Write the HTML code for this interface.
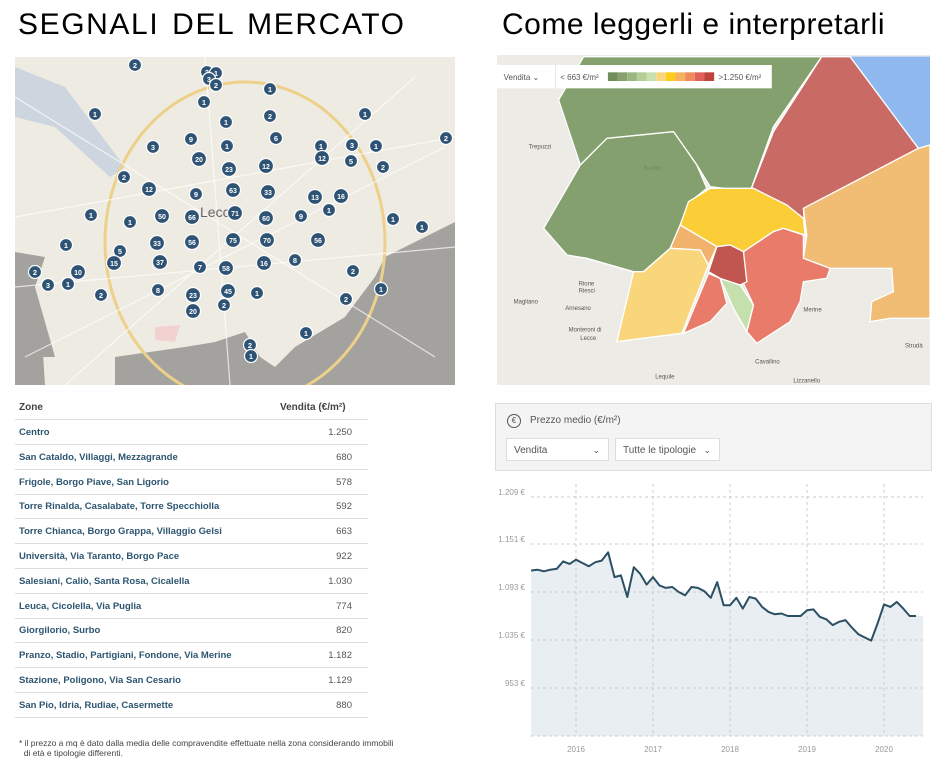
<!DOCTYPE html>
<html><head><meta charset="utf-8">
<style>
body{margin:0;width:948px;height:767px;background:#fff;position:relative;overflow:hidden;font-family:"Liberation Sans",sans-serif}
.abs{position:absolute}
.title{font-size:30px;color:#000;top:8px}
.row{position:absolute;left:15px;width:353px;height:24px;border-bottom:1px solid #ddd;font-size:9.5px}
.row .z{position:absolute;left:4px;top:7px;font-weight:bold;color:#2d5570}
.row .v{position:absolute;right:16px;top:7px;color:#555}
.dd{position:absolute;top:438px;height:23px;background:#fff;border:1px solid #ddd;font-size:10px;color:#555;line-height:23px;padding-left:7px;box-sizing:border-box}
.dd span{position:absolute;right:8px;top:0;font-size:9px}
</style></head><body>
<div class="abs title" style="left:18px;letter-spacing:1.6px;word-spacing:3px">SEGNALI DEL MERCATO</div>
<div class="abs title" style="left:502px;letter-spacing:0.5px">Come leggerli e interpretarli</div>

<svg class="abs" style="left:15px;top:57px" width="440" height="328" viewBox="0 0 440 328">
<rect width="440" height="328" fill="#eeebe2"/>
<polygon points="0,10 50,30 110,110 95,120 40,70 0,60" fill="#cdd5df"/>
<polygon points="0,195 30,200 20,230 40,300 0,300" fill="#a3a29f"/>
<polygon points="0,245 25,250 30,328 0,328" fill="#a3a29f"/>
<polygon points="100,300 170,290 200,285 230,275 245,300 260,310 280,290 330,260 360,220 370,200 440,165 440,328 100,328" fill="#a3a29f"/>
<polygon points="330,260 360,220 380,205 410,195 440,170 440,290 360,285" fill="#a3a29f"/>
<polygon points="140,270 165,268 160,285 140,283" fill="#f2d1d1"/>
<ellipse cx="230" cy="185" rx="140" ry="160" fill="none" stroke="#edd08a" stroke-width="3"/>
<g stroke="#fff" stroke-width="1.2" fill="none" opacity="0.7">
<line x1="0" y1="160" x2="440" y2="80"/><line x1="0" y1="230" x2="440" y2="190"/>
<line x1="190" y1="0" x2="215" y2="328"/><line x1="50" y1="328" x2="400" y2="20"/>
<line x1="0" y1="40" x2="420" y2="300"/><line x1="10" y1="300" x2="430" y2="90"/>
</g>
<text x="185" y="160" font-size="14" fill="#666" font-family="Liberation Sans">Lecce</text>
<g id="markers"></g>
</svg>

<svg class="abs" style="left:497px;top:55px" width="433" height="330" viewBox="0 0 1300 990" preserveAspectRatio="none">
<rect width="1300" height="990" fill="#ecebe6"/>
<polygon points="1050,5 1300,5 1300,270 1265,280 1150,150" fill="#8fb9ee"/>
<g stroke="#fff" stroke-width="4">
<polygon points="185,135 260,5 975,5 830,215 760,410 640,395 600,330 530,230 330,250 250,330" fill="#84a06e"/>
<polygon points="140,520 250,330 330,250 530,230 600,330 630,400 580,440 550,510 520,580 440,650 410,650 270,610 210,600" fill="#84a06e"/>
<polygon points="760,410 830,230 975,5 1060,5 1265,280 920,460 925,540" fill="#c96a64"/>
<polygon points="920,460 1265,280 1300,270 1300,790 1180,790 1120,800 1125,740 1190,710 1185,640 1000,640 920,610 930,540" fill="#f1bc73"/>
<polygon points="550,510 575,440 640,400 770,400 870,450 920,490 925,540 860,520 830,530 740,590 700,570 660,575" fill="#fbcd37"/>
<polygon points="520,580 550,510 660,575 635,630 610,585" fill="#f1b26c"/>
<polygon points="360,860 410,650 440,650 520,580 610,585 635,630 555,835" fill="#f9d67c"/>
<polygon points="740,590 830,530 860,520 920,540 920,610 1000,640 990,670 920,680 910,740 880,800 780,865 750,830 770,750 740,685" fill="#e87b6a"/>
<polygon points="635,655 670,670 690,745 640,800 560,835" fill="#e87b6a"/>
<polygon points="670,670 730,690 770,750 750,830 710,760" fill="#c6e0ad"/>
<polygon points="660,575 700,570 740,590 750,680 730,690 670,670 635,650" fill="#c0564f"/>
</g>
<g font-family="Liberation Sans" font-size="18" fill="#555">
<text x="95" y="280">Trepuzzi</text><text x="50" y="745">Magliano</text><text x="215" y="830">Monteroni di</text><text x="250" y="855">Lecce</text>
<text x="920" y="770">Merine</text><text x="775" y="925">Cavallino</text><text x="890" y="983">Lizzanello</text><text x="1225" y="878">Strudà</text>
<text x="205" y="765">Arnesano</text><text x="245" y="692">Rione</text><text x="245" y="712">Riesci</text><text x="475" y="970">Lequile</text>
<text x="440" y="345" fill="#6c8a5e" font-size="20">Surbo</text>
</g>
<rect x="0" y="30" width="825" height="70" fill="#fff"/>
<text x="20" y="75" font-size="24" fill="#555" font-family="Liberation Sans">Vendita ⌄</text>
<line x1="175" y1="30" x2="175" y2="100" stroke="#ddd" stroke-width="2"/>
<text x="190" y="75" font-size="24" fill="#555" font-family="Liberation Sans">&lt; 663 €/m²</text>
<g id="scale"></g>
<text x="665" y="75" font-size="24" fill="#555" font-family="Liberation Sans">&gt;1.250 €/m²</text>
</svg>

<div class="abs" style="left:19px;top:402px;font-size:10px;font-weight:bold;color:#444">Zone</div>
<div class="abs" style="left:280px;top:402px;font-size:10px;font-weight:bold;color:#444">Vendita (€/m²)</div>
<div class="abs" style="left:15px;top:419px;width:353px;border-top:1px solid #ddd"></div>
<div id="rows"></div>
<div class="abs" style="left:19px;top:738px;font-size:8.5px;color:#444;line-height:10px;white-space:nowrap">* il prezzo a mq è dato dalla media delle compravendite effettuate nella zona considerando immobili<br>&nbsp; di età e tipologie differenti.</div>

<div class="abs" style="left:495px;top:403px;width:437px;height:68px;background:#f4f4f4;border:1px solid #ddd;box-sizing:border-box"></div>
<div class="abs" style="left:507px;top:414px;width:12px;height:12px;border:1px solid #555;border-radius:50%;font-size:8px;text-align:center;line-height:12px;color:#555">€</div>
<div class="abs" style="left:530px;top:415px;font-size:10px;color:#555">Prezzo medio (€/m²)</div>
<div class="dd" style="left:506px;width:103px">Vendita<span>⌄</span></div>
<div class="dd" style="left:615px;width:105px">Tutte le tipologie<span>⌄</span></div>

<svg class="abs" style="left:495px;top:480px" width="440" height="287">
<g id="chart"></g>
</svg>

<script>
const NS="http://www.w3.org/2000/svg";
function mk(tag,attrs,parent){const e=document.createElementNS(NS,tag);for(const k in attrs)e.setAttribute(k,attrs[k]);parent.appendChild(e);return e;}

const markerLabels=["2","3","1","3","2","1","1","1","1","2","1","3","9","6","1","20","1","3","1","12","5","2","23","12","2","12","9","63","33","13","16","1","1","1","50","66","71","60","9","1","1","1","33","56","75","70","56","5","15","37","7","58","16","8","2","10","3","1","2","1","8","2","23","45","1","20","2","2","1","2","1","2"];
const markerPos=[[135,65],[207,72],[216,73],[209,79],[216,85],[95,114],[204,102],[270,89],[365,114],[270,116],[226,122],[153,147],[191,139],[276,138],[227,146],[199,159],[321,146],[352,145],[376,146],[322,158],[351,161],[383,167],[229,169],[266,166],[124,177],[149,189],[196,194],[233,190],[268,192],[315,197],[341,196],[329,210],[91,215],[130,222],[162,216],[192,217],[235,213],[266,218],[301,216],[393,219],[422,227],[66,245],[157,243],[192,242],[233,240],[267,240],[318,240],[120,251],[114,263],[160,262],[200,267],[226,268],[264,263],[295,260],[35,272],[78,272],[48,285],[68,284],[353,271],[381,289],[158,290],[101,295],[193,295],[228,291],[257,293],[193,311],[224,305],[346,299],[306,333],[250,345],[251,356],[446,138]];
const mg=document.getElementById('markers');
markerPos.forEach((p,i)=>{
 const x=p[0]-15,y=p[1]-57;const big=markerLabels[i].length>1;
 const g=mk('g',{},mg);
 
 
 mk('circle',{cx:x,cy:y,r:big?7.5:6.5,fill:'#2f5375',stroke:'#fff','stroke-width':1.2},g);
 const t=mk('text',{x:x,y:y+2.8,'text-anchor':'middle','font-size':big?7:7.5,'font-weight':'bold',fill:'#fff','font-family':'Liberation Sans'},g);
 t.textContent=markerLabels[i];
});
const scaleColors=["#6f8d5d","#86a06e","#9ab682","#b3cf95","#c8dfae","#f9d67c","#fbcd1a","#f5b060","#ef8a5c","#e0605a","#c0443e"];
const sg=document.getElementById('scale');
scaleColors.forEach((c,i)=>{const r=mk('rect',{x:333+i*29,y:52,width:29,height:26,fill:c},sg);
 
 });

const zones=["Centro","San Cataldo, Villaggi, Mezzagrande","Frigole, Borgo Piave, San Ligorio","Torre Rinalda, Casalabate, Torre Specchiolla","Torre Chianca, Borgo Grappa, Villaggio Gelsi","Università, Via Taranto, Borgo Pace","Salesiani, Caliò, Santa Rosa, Cicalella","Leuca, Cicolella, Via Puglia","Giorgilorio, Surbo","Pranzo, Stadio, Partigiani, Fondone, Via Merine","Stazione, Poligono, Via San Cesario","San Pio, Idria, Rudiae, Casermette"];
const prices=["1.250","680","578","592","663","922","1.030","774","820","1.182","1.129","880"];
const rows=document.getElementById('rows');
zones.forEach((z,i)=>{const d=document.createElement('div');d.className='row';d.style.top=(420+i*24.8)+'px';
 
 
 d.innerHTML='<span class="z">'+z+'</span><span class="v">'+prices[i]+'</span>';rows.appendChild(d);});

const startYear=2015+5/12;
const values=[1119,1120,1118,1120,1121,1130,1127,1132,1128,1124,1129,1131,1141,1111,1113,1087,1123,1115,1102,1111,1101,1098,1099,1093,1089,1099,1098,1094,1086,1105,1077,1077,1086,1073,1087,1085,1075,1069,1066,1067,1064,1064,1064,1071,1072,1063,1060,1053,1057,1059,1050,1042,1038,1034,1055,1078,1075,1081,1073,1064,1064];
const yTicks=[953,1035,1093,1151,1209];
const yTickLabels=["953 €","1.035 €","1.093 €","1.151 €","1.209 €"];
const xYears=[2016,2017,2018,2019,2020];
const xLabels=["2016","2017","2018","2019","2020"];
const x0=36,x1=428,yBottom=256;
const yTickPx=[208,160,112,64,17];
function xs(t){return 81+(t-2016)*77;}
function ys(v){
 if(v<=yTicks[0]) return yTickPx[0]+(yTicks[0]-v)/82*48;
 for(let i=0;i<yTicks.length-1;i++){if(v<=yTicks[i+1]){const f=(v-yTicks[i])/(yTicks[i+1]-yTicks[i]);return yTickPx[i]+f*(yTickPx[i+1]-yTickPx[i]);}}
 return yTickPx[4]-(v-yTicks[4])/58*48;
}
const ch=document.getElementById('chart');
const pts=values.map((v,i)=>[xs(startYear+i/12),ys(v)]);
const last=pts[pts.length-1];
const area=mk('path',{d:'M'+x0+','+yBottom+' L'+pts.map(p=>p[0].toFixed(1)+','+p[1].toFixed(1)).join(' L')+' L'+x1+','+last[1].toFixed(1)+' L'+x1+','+yBottom+' Z',fill:'#e9eef3'},ch);


yTicks.forEach((v,i)=>{const y=ys(v);
 const l=mk('line',{x1:x0,x2:x1,y1:y,y2:y,stroke:'#ccc','stroke-dasharray':'3,3'},ch);
 
 
 const t=mk('text',{x:30,y:y-2,'text-anchor':'end','font-size':8,fill:'#999','font-family':'Liberation Sans'},ch);
 
 
 t.textContent=yTickLabels[i];});
mk('line',{x1:x0,x2:x1,y1:yBottom,y2:yBottom,stroke:'#ccc','stroke-dasharray':'3,3'},ch);
xYears.forEach((yr,i)=>{const x=xs(yr);
 const l=mk('line',{x1:x,x2:x,y1:4,y2:yBottom,stroke:'#ccc','stroke-dasharray':'3,3'},ch);
 
 
 const t=mk('text',{x:x,y:272,'text-anchor':'middle','font-size':8,fill:'#999','font-family':'Liberation Sans'},ch);
 
 
 t.textContent=xLabels[i];});
const line=mk('polyline',{points:pts.map(p=>p[0].toFixed(1)+','+p[1].toFixed(1)).join(' '),fill:'none',stroke:'#2b4f63','stroke-width':2,'stroke-linejoin':'round'},ch);


</script>
</body></html>
